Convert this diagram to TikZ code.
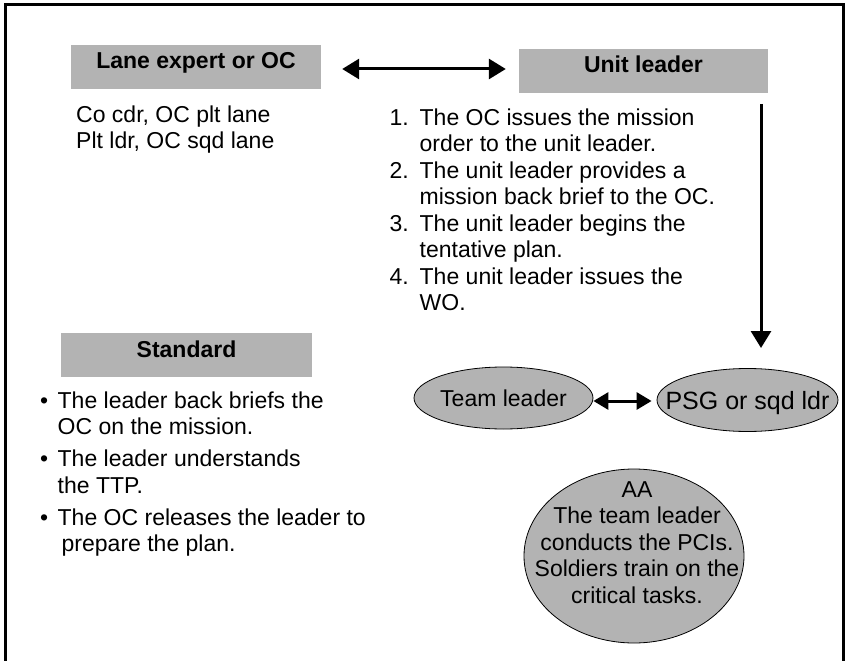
\documentclass[tikz,border=0pt]{standalone}
\usepackage{fontspec}
\setmainfont{Liberation Sans}
\usetikzlibrary{arrows.meta,shapes.geometric}
\definecolor{boxgray}{RGB}{179,179,179}
\begin{document}
\begin{tikzpicture}[x=1pt,y=-1pt,
  txt/.style={font=\fontsize{23}{26.5}\selectfont},
  body/.style={txt, inner sep=0pt, align=left, anchor=north west},
  hdr/.style={fill=boxgray, font=\fontsize{23}{26.5}\selectfont\bfseries,
              text height=24pt, text depth=20pt, inner sep=0pt, anchor=base},
  oval/.style={ellipse, draw=black, line width=0.8pt, fill=boxgray, inner sep=0pt,
               txt, text height=16.5pt, text depth=0pt},
  bigtip/.style={line width=3pt, -{Triangle[length=17pt,width=20pt]}},
  dbltip/.style={line width=3pt, {Triangle[length=17pt,width=20pt]}-{Triangle[length=17pt,width=20pt]}},
  smalldbl/.style={line width=3pt, {Triangle[length=15pt,width=17pt]}-{Triangle[length=15pt,width=17pt]}}]
\useasboundingbox (0,0) rectangle (847,661);
% frame
\draw[line width=3pt] (5,661) -- (5,5) -- (843,5) -- (843,661);

% header boxes
\node[hdr, minimum width=250pt] (lane) at (196,69) {Lane expert or OC};
\node[hdr, minimum width=249pt] (unit) at (643.5,73) {Unit leader};
\node[hdr, minimum width=251pt] (std) at (186.5,357) {Standard};

\draw[dbltip, shorten <=21pt, shorten >=13pt]
  ([yshift=-2pt]lane.east) -- ([yshift=-2pt]lane.east -| unit.west);

% lane text
\node[body] (lanetext) at (76,103.45) {\strut Co cdr, OC plt lane\\Plt ldr, OC sqd lane};

% numbered steps
\node[body] (steps) at (389.5,106.45) {\strut\makebox[30pt][l]{1.}The OC issues the mission\\
\hspace*{30pt}order to the unit leader.\\
\makebox[30pt][l]{2.}The unit leader provides a\\
\hspace*{30pt}mission back brief to the OC.\\
\makebox[30pt][l]{3.}The unit leader begins the\\
\hspace*{30pt}tentative plan.\\
\makebox[30pt][l]{4.}The unit leader issues the\\
\hspace*{30pt}WO.};

% vertical arrow
\coordinate (vtop) at (761,104);
\coordinate (vbot) at (761,348);
\draw[bigtip] (vtop) -- (vbot);

% standard bullets
\node[body] (item1) at (40,389.45) {\strut\makebox[17.5pt][l]{\textbullet}The leader back briefs the\\
\hspace*{17.5pt}OC on the mission.};
\node[body] (item2) at (40,447.95) {\strut\makebox[17.5pt][l]{\textbullet}The leader understands\\
\hspace*{17.5pt}the TTP.};
\node[body] (item3) at (40,506.45) {\strut\makebox[17.5pt][l]{\textbullet}The OC releases the leader to\\
\hspace*{21.5pt}prepare the plan.};

% ellipses
\node[oval, minimum width=179pt, minimum height=62pt] (team) at (503.5,398) {\makebox[0pt]{Team leader}};
\node[oval, minimum width=181pt, minimum height=63pt, font=\fontsize{25}{28}\selectfont, text height=18pt] (psg) at (747.5,400) {\makebox[0pt]{PSG or sqd ldr}};
\draw[smalldbl, shorten >=5pt] ([yshift=-3pt]team.east) -- ([yshift=-3pt]team.east -| psg.west);

\node[oval, minimum width=220pt, minimum height=174pt] (aa) at (634,556) {};
\node[txt, inner sep=0pt, align=center, anchor=north] (aatext) at (637,478.45)
  {\strut AA\\The team leader\\conducts the PCIs.\\Soldiers train on the\\critical tasks.};
\end{tikzpicture}
\end{document}
